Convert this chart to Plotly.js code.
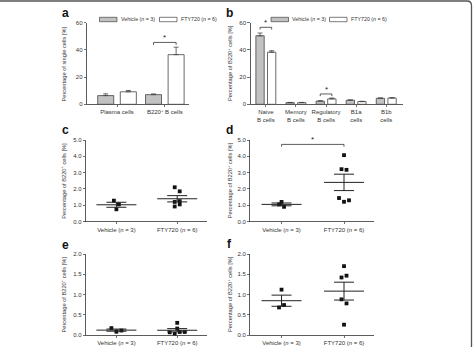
<!DOCTYPE html>
<html>
<head>
<meta charset="utf-8">
<script src="https://cdn.plot.ly/plotly-3.0.1.min.js"></script>
<style>
  html, body { margin: 0; padding: 0; background: #fff; }
  #chart { width: 474px; height: 347px; }
</style>
</head>
<body>
<div id="chart"></div>
<script>
// ---------- data ----------
const groupNames = ['Vehicle (<i>n</i> = 3)', 'FTY720 (<i>n</i> = 6)'];

// a: percentage of single cells
const aCategories = ['Plasma cells', 'B220<sup>+</sup> B cells'];
const aVehicleMean = [6.4, 7.1];
const aVehicleSem = [1.3, 0.5];
const aFtyMean = [9.2, 36.5];
const aFtySem = [1.0, 5.5];

// b: percentage of B220+ cells by subset
const bCategories = ['Naive<br>B cells', 'Memory<br>B cells', 'Regulatory<br>B cells', 'B1a<br>cells', 'B1b<br>cells'];
const bVehicleMean = [50.4, 1.2, 2.3, 3.0, 4.4];
const bVehicleSem = [2.0, 0.2, 0.3, 0.2, 0.3];
const bFtyMean = [38.3, 1.2, 4.0, 2.0, 4.6];
const bFtySem = [1.1, 0.2, 0.6, 0.2, 0.3];

// c-f: individual animals
const cVehicle = [1.28, 1.05, 0.75];
const cFty = [2.1, 1.85, 1.2, 1.25, 0.92, 1.05];
const dVehicle = [1.2, 1.05, 0.9];
const dFty = [4.07, 3.21, 3.17, 1.44, 1.21, 1.3];
const eVehicle = [0.17, 0.08, 0.11];
const eFty = [0.3, 0.16, 0.066, 0.03, 0.074, 0.074];
const fVehicle = [1.12, 0.68, 0.74];
const fFty = [1.70, 1.42, 1.465, 0.88, 0.78, 0.255];

// ---------- page geometry ----------
const W = 474, H = 347;
const px = v => v / W;
const py = v => 1 - v / H;
const FONT = 'Liberation Sans, Arial, sans-serif';
const INK = '#333';

const panels = {
  a: { x: [87, 189],    y: [22.7, 104.3], xr: [-0.628, 1.506], yr: [0, 60],  dt: 20,  fmt: '' },
  b: { x: [250.5, 402.5], y: [22.7, 104.3], xr: [-0.51, 4.54], yr: [0, 60],  dt: 20,  fmt: '' },
  c: { x: [86, 207],    y: [140, 221.5],  xr: [-0.5, 1.49],   yr: [0, 5],   dt: 1,   fmt: '.1f' },
  d: { x: [250.3, 374], y: [140, 221.5],  xr: [-0.5, 1.48],   yr: [0, 5],   dt: 1,   fmt: '.1f' },
  e: { x: [86, 207],    y: [254, 335],    xr: [-0.5, 1.49],   yr: [0, 2],   dt: 0.5, fmt: '.1f' },
  f: { x: [250.3, 374], y: [254, 335],    xr: [-0.5, 1.48],   yr: [0, 2],   dt: 0.5, fmt: '.1f' }
};
const order = ['a', 'b', 'c', 'd', 'e', 'f'];
order.forEach((k, i) => {
  panels[k].xa = i === 0 ? 'x' : 'x' + (i + 1);
  panels[k].ya = i === 0 ? 'y' : 'y' + (i + 1);
  panels[k].xKey = i === 0 ? 'xaxis' : 'xaxis' + (i + 1);
  panels[k].yKey = i === 0 ? 'yaxis' : 'yaxis' + (i + 1);
  const p = panels[k];
  p.unitX = (p.x[1] - p.x[0]) / (p.xr[1] - p.xr[0]);
  p.unitY = (p.y[1] - p.y[0]) / (p.yr[1] - p.yr[0]);
});

const traces = [];
const shapes = [];
const annotations = [];

// ---------- grouped bar panels ----------
function barPanel(p, vMean, vSem, fMean, fSem, barW, barGap) {
  const idx = vMean.map((_, i) => i);
  const common = {
    type: 'bar', x: idx, xaxis: p.xa, yaxis: p.ya, width: barW,
    hoverinfo: 'skip', showlegend: false
  };
  traces.push(Object.assign({}, common, {
    y: vMean, offset: -barGap / 2 - barW,
    marker: { color: '#c2c2c2', line: { color: '#444', width: 0.8 } },
    error_y: { type: 'data', symmetric: false, array: vSem, arrayminus: vSem.map(() => 0),
               color: '#444', thickness: 0.8, width: 2.5 }
  }));
  traces.push(Object.assign({}, common, {
    y: fMean, offset: barGap / 2,
    marker: { color: '#ffffff', line: { color: '#444', width: 0.8 } },
    error_y: { type: 'data', symmetric: false, array: fSem, arrayminus: fSem.map(() => 0),
               color: '#444', thickness: 0.8, width: 2.5 }
  }));
  const half = barGap / 2 + barW / 2;
  return i => [i - half, i + half];
}

function bracket(p, x0, x1, yTop, drop) {
  const yLow = yTop - drop;
  shapes.push({
    type: 'path', xref: p.xa, yref: p.ya,
    path: `M ${x0},${yLow} L ${x0},${yTop} L ${x1},${yTop} L ${x1},${yLow}`,
    line: { color: INK, width: 0.8 }
  });
  annotations.push({
    xref: p.xa, yref: p.ya, x: (x0 + x1) / 2, y: yTop, text: '*',
    showarrow: false, yanchor: 'bottom', yshift: -2,
    font: { family: FONT, size: 8, color: '#222' }
  });
}

const aCenters = barPanel(panels.a, aVehicleMean, aVehicleSem, aFtyMean, aFtySem, 0.335, 0.138);
const bCenters = barPanel(panels.b, bVehicleMean, bVehicleSem, bFtyMean, bFtySem, 0.276, 0.11);

{
  const [x0, x1] = aCenters(1);
  bracket(panels.a, x0, x1, 45.5, 1.8);
}
{
  const [x0, x1] = bCenters(0);
  bracket(panels.b, x0, x1, 56.6, 1.6);
  const [r0, r1] = bCenters(2);
  bracket(panels.b, r0, r1, 7.6, 1.6);
}

// ---------- dot plots with mean and SEM ----------
function mean(a) { return a.reduce((s, v) => s + v, 0) / a.length; }
function sem(a) {
  const m = mean(a);
  const v = a.reduce((s, x) => s + (x - m) * (x - m), 0) / (a.length - 1);
  return Math.sqrt(v / a.length);
}

// Points with nearly equal values are laid side by side in a row.
function swarm(vals, p) {
  const sorted = vals.map((_, i) => i).sort((i, j) => vals[i] - vals[j]);
  const rows = [];
  let row = [];
  sorted.forEach(i => {
    if (row.length && (vals[i] - vals[row[0]]) * p.unitY >= 4.5) { rows.push(row); row = []; }
    row.push(i);
  });
  if (row.length) rows.push(row);
  const off = vals.map(() => 0);
  rows.forEach(r => {
    r.sort((a, b) => a - b);
    r.forEach((i, k) => { off[i] = (k - (r.length - 1) / 2) * 5 / p.unitX; });
  });
  return off;
}

function dotPanel(p, groups) {
  groups.forEach((vals, g) => {
    const off = swarm(vals, p);
    traces.push({
      type: 'scatter', mode: 'markers', xaxis: p.xa, yaxis: p.ya,
      x: vals.map((_, i) => g + off[i]), y: vals,
      marker: { symbol: 'square', size: 3.8, color: '#111' },
      cliponaxis: false, hoverinfo: 'skip', showlegend: false
    });
    const m = mean(vals), s = sem(vals);
    const hm = 20 / p.unitX, hs = 10 / p.unitX;
    traces.push({
      type: 'scatter', mode: 'lines', xaxis: p.xa, yaxis: p.ya,
      x: [g - hm, g + hm, null, g - hs, g + hs, null, g - hs, g + hs, null, g, g],
      y: [m, m, null, m + s, m + s, null, m - s, m - s, null, m - s, m + s],
      line: { color: '#222', width: 1 },
      cliponaxis: false, hoverinfo: 'skip', showlegend: false
    });
  });
}

dotPanel(panels.c, [cVehicle, cFty]);
dotPanel(panels.d, [dVehicle, dFty]);
dotPanel(panels.e, [eVehicle, eFty]);
dotPanel(panels.f, [fVehicle, fFty]);
bracket(panels.d, 0, 1, 4.73, 0.14);

// ---------- axes ----------
const layout = {
  width: W, height: H,
  margin: { l: 0, r: 0, t: 0, b: 0 },
  paper_bgcolor: '#ffffff', plot_bgcolor: 'rgba(0,0,0,0)',
  barmode: 'overlay', showlegend: false,
  font: { family: FONT, color: INK, size: 6 },
  shapes, annotations
};

const yTitles = {
  a: 'Percentage of single cells [%]',
  b: 'Percentage of B220<sup>+</sup> cells [%]',
  c: 'Percentage of B220<sup>+</sup> cells [%]',
  d: 'Percentage of B220<sup>+</sup> cells [%]',
  e: 'Percentage of B220<sup>+</sup> cells [%]',
  f: 'Percentage of B220<sup>+</sup> cells [%]'
};
const xLabels = {
  a: aCategories, b: bCategories,
  c: groupNames, d: groupNames, e: groupNames, f: groupNames
};
const letterPos = { a: [65, 13], b: [229.5, 13], c: [65, 130], d: [229.5, 130], e: [65, 245], f: [229, 244] };
const titleX = { a: 63, b: 229.5, c: 63, d: 229.5, e: 63, f: 229.5 };

order.forEach(k => {
  const p = panels[k];
  const ticks = [];
  for (let v = p.yr[0]; v <= p.yr[1] + 1e-9; v += p.dt) ticks.push(+v.toFixed(3));
  layout[p.xKey] = {
    domain: [px(p.x[0]), px(p.x[1])], range: p.xr, anchor: p.ya,
    tickmode: 'array', tickvals: xLabels[k].map((_, i) => i), ticktext: xLabels[k],
    showline: true, linecolor: INK, linewidth: 0.8, showgrid: false, zeroline: false,
    ticks: 'outside', ticklen: 2, tickwidth: 0.7, tickcolor: INK,
    tickfont: { family: FONT, size: 6, color: INK }, fixedrange: true
  };
  layout[p.yKey] = {
    domain: [py(p.y[1]), py(p.y[0])], range: p.yr, anchor: p.xa,
    tickmode: 'array', tickvals: ticks,
    ticktext: ticks.map(v => p.fmt ? v.toFixed(1) : String(v)),
    showline: true, linecolor: INK, linewidth: 0.8, showgrid: false, zeroline: false,
    ticks: 'outside', ticklen: 2.5, tickwidth: 0.7, tickcolor: INK,
    tickfont: { family: FONT, size: 6, color: INK }, fixedrange: true
  };
  annotations.push({
    xref: 'paper', yref: 'paper', x: px(titleX[k]), y: py((p.y[0] + p.y[1]) / 2),
    text: yTitles[k], textangle: -90, showarrow: false,
    xanchor: 'center', yanchor: 'middle',
    font: { family: FONT, size: 5.7, color: INK }
  });
  annotations.push({
    xref: 'paper', yref: 'paper', x: px(letterPos[k][0]), y: py(letterPos[k][1]),
    text: '<b>' + k + '</b>', showarrow: false, xanchor: 'center', yanchor: 'middle',
    font: { family: FONT, size: 12, color: '#111' }
  });
});

// ---------- legends for the bar panels ----------
function legend(x0Vehicle, x0Fty, yMid) {
  [[x0Vehicle, '#c2c2c2', groupNames[0]], [x0Fty, '#ffffff', groupNames[1]]].forEach(([x0, fill, label]) => {
    shapes.push({
      type: 'rect', xref: 'paper', yref: 'paper',
      x0: px(x0), x1: px(x0 + 17.5), y0: py(yMid + 2.2), y1: py(yMid - 2.2),
      fillcolor: fill, line: { color: '#444', width: 0.7 }
    });
    annotations.push({
      xref: 'paper', yref: 'paper', x: px(x0 + 19), y: py(yMid), text: label,
      showarrow: false, xanchor: 'left', yanchor: 'middle',
      font: { family: FONT, size: 5.3, color: INK }
    });
  });
}
legend(99.5, 159.5, 19.5);
legend(271, 329.5, 19.5);

// ---------- frame: top rule and right edge with rounded corner ----------
{
  const yT = 1, xR = 471.5, r = 4.5;
  shapes.push({
    type: 'path', xref: 'paper', yref: 'paper',
    path: `M 0,${py(yT)} L ${px(xR - r)},${py(yT)} Q ${px(xR)},${py(yT)} ${px(xR)},${py(yT + r)} L ${px(xR)},${py(H + 2)}`,
    line: { color: '#555', width: 1.3 }
  });
}

Plotly.newPlot('chart', traces, layout, { staticPlot: true, displayModeBar: false });
</script>
</body>
</html>
